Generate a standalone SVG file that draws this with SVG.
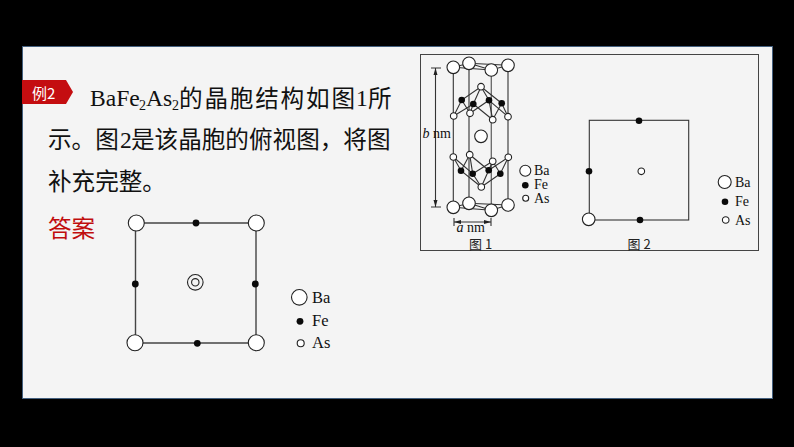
<svg xmlns="http://www.w3.org/2000/svg" width="794" height="447" viewBox="0 0 794 447">
<style>
.t{font-family:"Noto Sans CJK SC","Liberation Sans",sans-serif;font-size:23.6px;fill:#111}
.s{font-family:"Liberation Serif","Noto Sans CJK SC",serif;fill:#111}
.r{font-family:"Liberation Serif",serif;font-size:23.6px;fill:#111}
.sub{font-family:"Liberation Serif",serif;font-size:14px;fill:#111}
.l1{font-size:14px}.l2{font-size:16.5px}
.cap{font-family:"Noto Sans CJK SC",serif;font-size:13px;fill:#222}
.w{fill:#fff;stroke:#222;stroke-width:1.1}
.wn{fill:#f4f4f4;stroke:#222;stroke-width:1.1}
.k{fill:#0a0a0a}
.ln{stroke:#333;stroke-width:1.1;fill:none}
.lb{stroke:#444;stroke-width:1.4;fill:none}
</style>
<defs>
<circle id="ba" r="6.3" class="w"/><circle id="as" r="3.3" class="w"/><circle id="fe" r="3.3" class="k"/>
</defs>
<rect width="794" height="447" fill="#000"/>
<rect id="panel" x="22.500" y="46.500" width="750" height="352" fill="#f4f4f4" stroke="#44607f" stroke-width="1"/>
<g id="tag"><polygon points="22,80 66,80 73,92 66,104 22,104" fill="#c40d10"/><text x="32" y="99" font-family="Noto Sans CJK SC,sans-serif" font-size="15" fill="#fff">例2</text></g>
<g id="question">
<text x="90" y="106" class="r">BaFe</text><text x="139" y="110" class="sub">2</text><text x="146" y="106" class="r">As</text><text x="172" y="110" class="sub">2</text>
<text x="179" y="107" class="t" textLength="176" lengthAdjust="spacing">的晶胞结构如图</text><text x="356" y="106" class="r">1</text><text x="368" y="107" class="t">所</text>
<text x="48" y="148" class="t">示。图</text><text x="120" y="148" class="r">2</text><text x="131" y="148" class="t">是该晶胞的俯视图，将图</text>
<text x="48" y="190" class="t">补充完整。</text>
<text x="48" y="237" class="t" style="fill:#c00d0d">答案</text>
</g>
<g id="answer">
<path class="lb" d="M136 223H256M135 343H256M135.500 223V343M256 223V343"/>
<circle cx="136.300" cy="223" r="8" class="w"/><circle cx="256.300" cy="223" r="8" class="w"/><circle cx="135" cy="342.700" r="8" class="w"/><circle cx="256.300" cy="342.700" r="8" class="w"/>
<circle cx="196" cy="223" r="3.400" class="k"/><circle cx="135.300" cy="284" r="3.400" class="k"/><circle cx="255.300" cy="284" r="3.400" class="k"/><circle cx="197.300" cy="343.300" r="3.400" class="k"/>
<circle cx="195.300" cy="282.300" r="7.800" class="wn"/><circle cx="195.300" cy="282.300" r="3.700" class="wn"/>
<circle cx="299.300" cy="297.300" r="7.800" class="w"/><circle cx="300" cy="321.300" r="3.400" class="k"/><circle cx="300.700" cy="343.300" r="3.500" class="w"/>
<text x="312" y="302.700" class="s l2">Ba</text><text x="312" y="325.700" class="s l2">Fe</text><text x="312" y="348.300" class="s l2">As</text>
</g>
<rect id="frame" x="420.500" y="54.500" width="338" height="196" fill="none" stroke="#444" stroke-width="1"/>
<g id="connectors" class="ln">
<path d="M453.300 67.300V207.300M469 63.300V203.300M508 65.300V205"/>
<path d="M491.300 70V210.300" stroke="#666" stroke-width="1.300"/>
<path d="M453.300 67.300L469 63.300L508 65.300L491.300 70ZM469 63.300L491.300 70"/>
<path d="M453.300 207.300L469 203.300L508 205L491.300 210.300ZM469 203.300L491.300 210.300"/>
<path d="M481 86.700L461.700 100L453.700 116L473.300 104L470 113.300L489 100.300L492.700 119.700L501.700 103.300L508 116.700L489 100.300M481 86.700L473.300 104M481 86.700L489 100.300M481 86.700L501.700 103.300M461.700 100L470 113.300M473.300 104L492.700 119.700"/>
<path d="M481.300 187L461 170.700L453.300 157L472.700 173.700L469.700 154.700L488.700 170.300L492.700 161.300L500.300 173.700L508.300 157.300L488.700 170.300M481.300 187L472.700 173.700M481.300 187L488.700 170.300M481.300 187L500.300 173.700M461 170.700L469.700 154.700M472.700 173.700L492.700 161.300"/>
<path d="M435.500 68V207M431 68H441M431 207H441M454 218V226M491 218V226M454 222H491" stroke="#333"/>
<path d="M435.500 68l-2 7h4zM435.500 207l-2-7h4zM454 222l7-2v4zM491 222l-7-2v4z" fill="#222" stroke="none"/>
</g>
<g id="fig1">
<use href="#ba" x="469" y="63.300"/><use href="#ba" x="508" y="65.300"/><use href="#ba" x="453.300" y="67.300"/><use href="#ba" x="491.300" y="70"/>
<use href="#ba" x="469" y="203.300"/><use href="#ba" x="508" y="205"/><use href="#ba" x="453.300" y="207.300"/><use href="#ba" x="491.300" y="210.300"/>
<use href="#ba" x="481" y="136.300"/>
<use href="#as" x="481" y="86.700"/><use href="#as" x="453.700" y="116"/><use href="#as" x="470" y="113.300"/><use href="#as" x="492.700" y="119.700"/><use href="#as" x="508" y="116.700"/>
<use href="#as" x="453.300" y="157"/><use href="#as" x="469.700" y="154.700"/><use href="#as" x="492.700" y="161.300"/><use href="#as" x="508.300" y="157.300"/><use href="#as" x="481.300" y="187"/>
<use href="#fe" x="461.700" y="100"/><use href="#fe" x="473.300" y="104"/><use href="#fe" x="489" y="100.300"/><use href="#fe" x="501.700" y="103.300"/>
<use href="#fe" x="461" y="170.700"/><use href="#fe" x="472.700" y="173.700"/><use href="#fe" x="488.700" y="170.300"/><use href="#fe" x="500.300" y="173.700"/>
<text x="422.500" y="138" class="s l1"><tspan font-style="italic">b</tspan> nm</text>
<text x="456.500" y="232" class="s l1"><tspan font-style="italic">a</tspan> nm</text>
<text x="469" y="248.500" class="cap">图 1</text>
<circle cx="525.300" cy="170.700" r="5.500" class="w"/><use href="#fe" x="525.300" y="185.300"/><circle cx="525.700" cy="198.300" r="3" class="w"/>
<text x="534" y="175" class="s l1">Ba</text><text x="534" y="189.300" class="s l1">Fe</text><text x="534" y="203" class="s l1">As</text>
</g>
<g id="fig2">
<rect x="589.300" y="120.300" width="99.400" height="99.700" class="ln" stroke-width="1.200"/>
<circle cx="588.700" cy="219.300" r="6.300" class="w"/>
<use href="#fe" x="639" y="120.700"/><use href="#fe" x="589" y="171.300"/><use href="#fe" x="640" y="220"/>
<use href="#as" x="641.300" y="171.300"/>
<text x="627.500" y="248.500" class="cap">图 2</text>
<circle cx="724.700" cy="182" r="6.500" class="w"/><use href="#fe" x="725" y="201.700"/><use href="#as" x="725.700" y="220"/>
<text x="735" y="186.500" class="s l1">Ba</text><text x="735" y="206" class="s l1">Fe</text><text x="735" y="224.500" class="s l1">As</text>
</g>
</svg>
